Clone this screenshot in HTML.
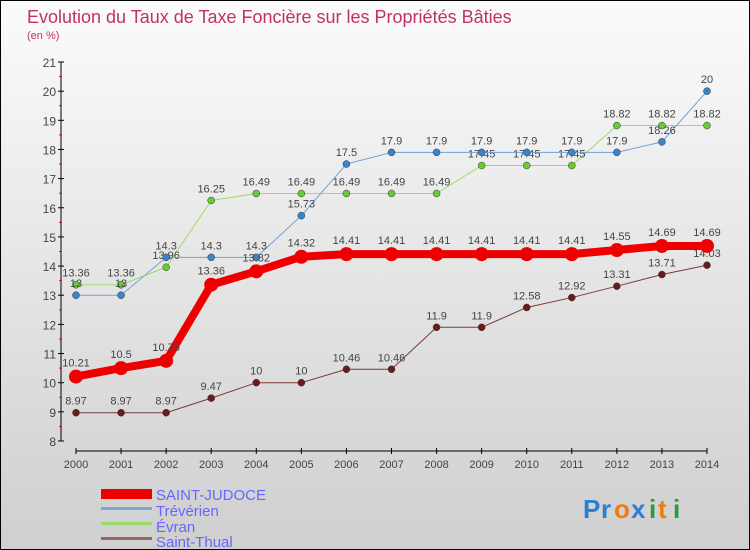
<!DOCTYPE html>
<html><head><meta charset="utf-8"><style>
body{margin:0;}
#c{width:748px;height:548px;border:1px solid #000;background:linear-gradient(#fbfbfb,#cfcfcf);position:relative;overflow:hidden;font-family:"Liberation Sans",sans-serif;}
text{font-family:"Liberation Sans",sans-serif;}
</style></head><body>
<div id="c">
<svg id="s" width="748" height="548">
<text x="26" y="22" font-size="18" fill="#c2306a">Evolution du Taux de Taxe Foncière sur les Propriétés Bâties</text>
<text x="26" y="38" font-size="11" fill="#c2306a">(en %)</text>
<g id="g"></g>
<g>
<rect x="100" y="488" width="51" height="10" fill="#e00"/>
<text x="155" y="499" font-size="15" fill="#6666ff">SAINT-JUDOCE</text>
<rect x="100" y="506" width="51" height="3" fill="#7aa7d6"/>
<text x="155" y="515" font-size="15" fill="#6666ff">Trévérien</text>
<rect x="100" y="521" width="51" height="3" fill="#99dd66"/>
<text x="155" y="531" font-size="15" fill="#6666ff">Évran</text>
<rect x="100" y="536" width="51" height="3" fill="#996666"/>
<text x="155" y="546" font-size="15" fill="#6666ff">Saint-Thual</text>
</g>
<g font-size="26" font-weight="bold">
<text x="582" y="517" fill="#2a7fd4">P</text><text x="600" y="517" fill="#2a7fd4">r</text><text x="613" y="517" fill="#f07b10">o</text><text x="630" y="517" fill="#2a7fd4">x</text><text x="648" y="517" fill="#2a9a3a">i</text><text x="657" y="517" fill="#f07b10">t</text><text x="672" y="517" fill="#2a9a3a">i</text>
</g>
</svg></div>
<script>
const years=[2000,2001,2002,2003,2004,2005,2006,2007,2008,2009,2010,2011,2012,2013,2014];
const yTicks=[8,9,10,11,12,13,14,15,16,17,18,19,20,21];
const judoce=[10.21,10.5,10.75,13.36,13.82,14.32,14.41,14.41,14.41,14.41,14.41,14.41,14.55,14.69,14.69];
const treverien=[13,13,14.3,14.3,14.3,15.73,17.5,17.9,17.9,17.9,17.9,17.9,17.9,18.26,20];
const evran=[13.36,13.36,13.96,16.25,16.49,16.49,16.49,16.49,16.49,17.45,17.45,17.45,18.82,18.82,18.82];
const thual=[8.97,8.97,8.97,9.47,10,10,10.46,10.46,11.9,11.9,12.58,12.92,13.31,13.71,14.03];
const trevLabels=["13","13","14.3","14.3","14.3","15.73","17.5","17.9","17.9","17.9","17.9","17.9","17.9","18.26","20"];
const NS="http://www.w3.org/2000/svg",g=document.getElementById('g');
const X=i=>75+i*(706-75)/14, Y=v=>440-(v-8)*(440-61)/13;
function mk(t,a){const e=document.createElementNS(NS,t);for(const k in a)e.setAttribute(k,a[k]);g.appendChild(e);return e;}
let e=mk('line',{x1:60,y1:61,x2:60,y2:440,stroke:'#000','stroke-width':1});

e=mk('line',{x1:75,y1:450,x2:706,y2:450,stroke:'#000','stroke-width':1});

yTicks.forEach(v=>{
 const y=Y(v);mk('line',{x1:57,x2:63,y1:y,y2:y,stroke:'#000'});
 if(v<21)mk('line',{x1:58,x2:61,y1:Y(v+0.5),y2:Y(v+0.5),stroke:'#f00'});
 const t=mk('text',{x:55,y:y+5,'font-size':12,fill:'#444','text-anchor':'end'});t.textContent=v;
 
});
years.forEach((yr,i)=>{
 mk('line',{x1:X(i),x2:X(i),y1:447,y2:453,stroke:'#000'});
 const t=mk('text',{x:X(i),y:467,'font-size':11,fill:'#444','text-anchor':'middle'});t.textContent=yr;
 
});
function series(vals,name,col,w,r,dot,dy,labels){
 const p=mk('polyline',{points:vals.map((v,i)=>X(i)+','+Y(v)).join(' '),fill:'none',stroke:col,'stroke-width':w,'stroke-linejoin':'round'});
 
 vals.forEach((v,i)=>{
  const c=mk('circle',{cx:X(i),cy:Y(v),r:r,fill:dot,stroke:'#333','stroke-width':r>5?0:0.5});
  
  const t=mk('text',{x:X(i),y:Y(v)+dy,'font-size':11,fill:'#444','text-anchor':'middle'});
  t.textContent=labels?labels[i]:v;
  
 });
}
series(thual,'saint-thual','#7a3a3a',1,3.5,'#6a1c1c',-8);
series(evran,'evran','#99dd66',1,3.5,'#66cc33',-8);
series(treverien,'treverien','#6fa3d8',1,3.5,'#3a84cc',-8,trevLabels);
series(judoce,'saint-judoce','#ee0000',8,7,'#ee0000',-10);
</script>
</body></html>
